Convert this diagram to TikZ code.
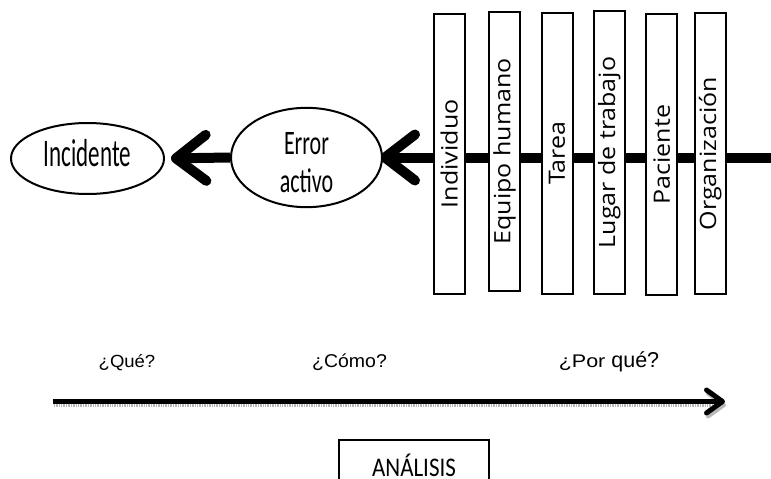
\documentclass[tikz,border=0pt]{standalone}
\usepackage{fontspec}
\newfontfamily\carl{Carlito}
\newfontfamily\opens{Open Sans}
\newfontfamily\libs{Liberation Sans}
\usetikzlibrary{arrows.meta,backgrounds,shapes.geometric}
\newcommand\bartxt[1]{{\opens\fontsize{25}{30}\selectfont\scalebox{1}[0.9]{#1}}}
\begin{document}
\begin{tikzpicture}[x=1pt,y=-1pt,
  oval/.style={draw, ellipse, line width=2pt, fill=white, inner sep=0pt},
  bar/.style={draw, rectangle, line width=2pt, fill=white, inner sep=0pt,
    minimum height=31pt, rotate=90},
  ask/.style={anchor=base, inner sep=0pt, font=\libs},
  bigarrow/.style={line width=10pt,
    -{Straight Barb[round, length=30pt, width=46pt, line width=10pt]}},
  thinarrow/.style={line width=5pt,
    -{Straight Barb[round, length=16pt, width=23pt, line width=5pt]}},
  shadowarrow/.style={line width=4pt, draw=gray!55, dash pattern=on 1pt off 0.7pt,
    -{Straight Barb[round, length=16pt, width=23pt, line width=4pt]}},
  anabox/.style={draw, rectangle, line width=2pt, minimum width=150pt,
    inner xsep=0pt, inner ysep=6pt, text height=30pt, text depth=0pt}]
\useasboundingbox (0,0) rectangle (771,479);
\clip (0,0) rectangle (771,479);

% ellipses
\node[oval, minimum width=153pt, minimum height=71pt, text height=20pt, text depth=3.6pt]
  (inc) at (87.5,158.5) {\carl\fontsize{23}{26}\selectfont\scalebox{1}[1.7]{Incidente}};
\node[oval, minimum width=151pt, minimum height=72pt, align=center,
  font=\carl\fontsize{22}{38}\selectfont]
  (err) at (306.5,157.5) {\rule{0pt}{32pt}\scalebox{1}[1.56]{Error}\\\scalebox{1}[1.56]{activo}};

% bars
\node[bar, minimum width=280.3pt] (b1) at (449.2,153.8) {\bartxt{Individuo}};
\node[bar, minimum width=279pt]   (b2) at (504.5,151.2) {\bartxt{Equipo humano}};
\node[bar, minimum width=281.3pt] (b3) at (557,153.3)   {\bartxt{Tarea}};
\node[bar, minimum width=283pt]   (b4) at (609.2,152.5) {\bartxt{Lugar de trabajo}};
\node[bar, minimum width=280.4pt] (b5) at (661.8,154.5) {\bartxt{Paciente}};
\node[bar, minimum width=280.7pt] (b6) at (710.3,153.7) {\bartxt{Organización}};

\coordinate (rend) at (780,157.5);
\begin{scope}[on background layer]
  \draw[bigarrow, shorten >=-3pt] (rend) -- (err.east);
\end{scope}
\draw[bigarrow, shorten >=6pt] (err.west) -- (inc.east);

% questions
\node[ask, font=\libs\fontsize{18.5}{20}\selectfont] (q1) at (127,367) {\scalebox{1}[0.95]{¿Qué?}};
\node[ask, font=\libs\fontsize{19.5}{22}\selectfont] (q2) at (349.5,367) {\scalebox{1}[0.95]{¿Cómo?}};
\node[ask, font=\libs\fontsize{21.5}{24}\selectfont] (q3) at (609,367) {\scalebox{1}[0.85]{¿Por} \scalebox{1}[1]{qué?}};

% bottom arrow
\coordinate (s1) at (53,401.5);
\coordinate (s2) at (725,401.5);
\coordinate (t1) at (54,405);
\coordinate (t2) at (726,405);
\draw[shadowarrow] (t1) -- (t2);
\draw[thinarrow] (s1) -- (s2);

% analysis box
\node[anabox, anchor=north] (ana) at (414,439)
  {\carl\fontsize{23}{26}\selectfont\scalebox{1}[1.17]{ANÁLISIS}};
\end{tikzpicture}
\end{document}
